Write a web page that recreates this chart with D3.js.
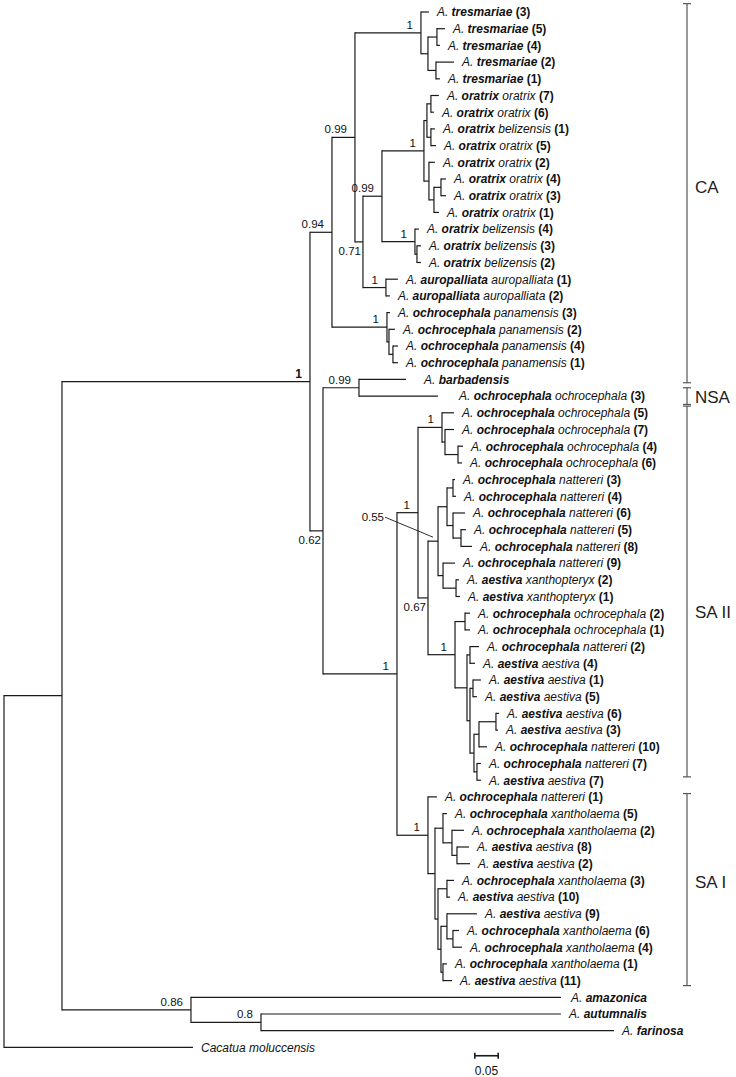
<!DOCTYPE html>
<html>
<head>
<meta charset="utf-8">
<script src="https://cdn.jsdelivr.net/npm/d3@7"></script>
<style>
  body { margin: 0; background: #fff; }
  svg { display: block; font-family: "Liberation Sans", Arial, sans-serif; }
</style>
</head>
<body>
<div id="chart-container"></div>
<script>
// Tree topology with branch lengths (substitutions/site); leaves are t0..t62
var newick =
  "(((" +
    "(((t0:0.0171,((t1:0.0171,t2:0.0064)T54:0.0192,(t3:0.0385,t4:0.0085)T21:0.0171)Tp:0.0150)T:0.1410," +
      "(((((t5:0.0171,t6:0.0064)o76:0.0085,(t7:0.0085,t8:0.0107)oB5:0.0085)Oa1:0.0064," +
           "(t9:0.0128,((t10:0.0107,t11:0.0107)o43:0.0150,t12:0.0107)o431:0.0107)Oa2:0.0107)Oa:0.0897," +
          "(t13:0.0085,(t14:0.0085,t15:0.0085)Bg2:0.0043)Bg:0.0705)O:0.0406," +
        "(t16:0.0256,t17:0.0085)Au:0.0491)O2:0.0171)C1:0.0491," +
     "(t18:0.0064,(t19:0.0128,(t20:0.0107,t21:0.0107)P2:0.0085)P1:0.0043)P:0.1175)C:0.0470," +
    "((t22:0.1004,t23:0.1688)NSA:0.0769," +
     "(((t24:0.0256,(t25:0.0192,(t26:0.0107,t27:0.0085)A3:0.0278)A2:0.0064)A1:0.0513," +
       "((((t28:0.0043,t29:0.0064)N34:0.0128,(t30:0.0256,(t31:0.0107,t32:0.0235)N58:0.0171)N658:0.0128)NG:0.0192," +
          "(t33:0.0256,(t34:0.0064,t35:0.0085)Nx:0.0278)N9:0.0107)N055:0.0214," +
         "((t36:0.0107,t37:0.0107)Noo:0.0214," +
          "((t38:0.0192,t39:0.0107)Nn2:0.0064," +
           "((t40:0.0171,t41:0.0085)Na15:0.0064," +
            "(((t42:0.0064,t43:0.0043)Na63:0.0363,t44:0.0171)N63:0.0107,(t45:0.0085,t46:0.0085)N77:0.0064)N1d:0.0085)N1c:0.0064)N1b:0.0256)N1:0.0577)N067:0.0214)S2:0.0449," +
      "(t47:0.0192,((t48:0.0085,(t49:0.0256,(t50:0.0256,t51:0.0278)G1c:0.0107)G1b:0.0192)G1:0.0171," +
        "((t52:0.0150,t53:0.0064)G2a:0.0192,((t54:0.0641,(t55:0.0128,t56:0.0192)G2d:0.0128)G2c:0.0128," +
          "(t57:0.0085,t58:0.0192)G2e:0.0043)G2b:0.0064)G2:0.0064)R:0.0150)SAI:0.0662)SA:0.1581)D:0.0278)B:0.5299," +
   "(t59:0.7906,(t60:0.6410,t61:0.7543)O8:0.1496)O86:0.2756)A:0.1239," +
  "t62:0.4038);";

// Leaf names, top to bottom
var genus = d3.range(62).map(function () { return "A."; }).concat(["Cacatua"]);
var species = [
  "tresmariae", "tresmariae", "tresmariae", "tresmariae", "tresmariae",
  "oratrix", "oratrix", "oratrix", "oratrix", "oratrix", "oratrix", "oratrix", "oratrix",
  "oratrix", "oratrix", "oratrix",
  "auropalliata", "auropalliata",
  "ochrocephala", "ochrocephala", "ochrocephala", "ochrocephala",
  "barbadensis", "ochrocephala",
  "ochrocephala", "ochrocephala", "ochrocephala", "ochrocephala",
  "ochrocephala", "ochrocephala", "ochrocephala", "ochrocephala", "ochrocephala", "ochrocephala",
  "aestiva", "aestiva",
  "ochrocephala", "ochrocephala", "ochrocephala",
  "aestiva", "aestiva", "aestiva", "aestiva", "aestiva",
  "ochrocephala", "ochrocephala", "aestiva",
  "ochrocephala", "ochrocephala", "ochrocephala", "aestiva", "aestiva",
  "ochrocephala", "aestiva", "aestiva", "ochrocephala", "ochrocephala", "ochrocephala", "aestiva",
  "amazonica", "autumnalis", "farinosa", "moluccensis"
];
var subspecies = [
  "", "", "", "", "",
  "oratrix", "oratrix", "belizensis", "oratrix", "oratrix", "oratrix", "oratrix", "oratrix",
  "belizensis", "belizensis", "belizensis",
  "auropalliata", "auropalliata",
  "panamensis", "panamensis", "panamensis", "panamensis",
  "", "ochrocephala",
  "ochrocephala", "ochrocephala", "ochrocephala", "ochrocephala",
  "nattereri", "nattereri", "nattereri", "nattereri", "nattereri", "nattereri",
  "xanthopteryx", "xanthopteryx",
  "ochrocephala", "ochrocephala", "nattereri",
  "aestiva", "aestiva", "aestiva", "aestiva", "aestiva",
  "nattereri", "nattereri", "aestiva",
  "nattereri", "xantholaema", "xantholaema", "aestiva", "aestiva",
  "xantholaema", "aestiva", "aestiva", "xantholaema", "xantholaema", "xantholaema", "aestiva",
  "", "", "", ""
];
var specimen = [
  3, 5, 4, 2, 1,
  7, 6, 1, 5, 2, 4, 3, 1,
  4, 3, 2,
  1, 2,
  3, 2, 4, 1,
  null, 3,
  5, 7, 4, 6,
  3, 4, 6, 5, 8, 9,
  2, 1,
  2, 1, 2,
  4, 1, 5, 6, 3,
  10, 7, 7,
  1, 5, 2, 8, 2,
  3, 10, 9, 6, 4, 1, 11,
  null, null, null, null
];

// Posterior support on internal nodes
var supportNodes = ["B", "C", "C1", "T", "O2", "O", "Oa", "Bg", "Au", "P", "D", "NSA",
  "SA", "S2", "A1", "N067", "N055", "N1", "SAI", "O86", "O8"];
var supportValues = ["1", "0.94", "0.99", "1", "0.71", "0.99", "1", "1", "1", "1", "0.62", "0.99",
  "1", "1", "1", "0.67", "0.55", "1", "1", "0.86", "0.8"];

// Clade brackets (in leaf rows)
var cladeNames = ["CA", "NSA", "SA II", "SA I"];
var cladeFrom = [-0.5, 22.5, 23.6, 46.8];
var cladeTo = [22.2, 23.5, 45.8, 58.3];
var cladeLabelRow = [10.5, 23.05, 35.9, 52.1];

var scaleBarValue = 0.05;

// ---- parse newick ----
function parseNewick(s) {
  s = s.replace(/\s+/g, "");
  var i = 0;
  function node() {
    var n = { children: [] };
    if (s[i] === "(") {
      i++;
      n.children.push(node());
      while (s[i] === ",") { i++; n.children.push(node()); }
      i++;
    }
    var name = "";
    while (i < s.length && ",():;".indexOf(s[i]) < 0) name += s[i++];
    n.name = name;
    n.length = 0;
    if (s[i] === ":") {
      i++;
      var num = "";
      while (i < s.length && ",();".indexOf(s[i]) < 0) num += s[i++];
      n.length = +num;
    }
    if (!n.children.length) delete n.children;
    return n;
  }
  return node();
}

var width = 736, height = 1077;
var root = d3.hierarchy(parseNewick(newick));

root.eachBefore(function (d) { d.dist = (d.parent ? d.parent.dist : 0) + d.data.length; });
root.eachAfter(function (d) {
  if (!d.children) d.row = +d.data.name.slice(1);
  else d.row = (d.children[0].row + d.children[d.children.length - 1].row) / 2;
});

var x = d3.scaleLinear().domain([0, 1]).range([4, 472]);
var y = d3.scaleLinear().domain([0, 62]).range([12, 1047.4]);

var svg = d3.select("#chart-container").append("svg")
  .attr("width", width)
  .attr("height", height);

var ink = "#1a1a1a";

// horizontal branches
svg.append("g")
  .selectAll("path")
  .data(root.descendants().filter(function (d) { return d.parent; }))
  .enter().append("path")
  .attr("d", function (d) {
    return "M" + x(d.parent.dist) + "," + y(d.row) + "H" + x(d.dist);
  })
  .attr("fill", "none")
  .attr("stroke", ink)
  .attr("stroke-width", 1.2);

// vertical connectors
svg.append("g")
  .selectAll("path")
  .data(root.descendants().filter(function (d) { return d.children; }))
  .enter().append("path")
  .attr("d", function (d) {
    var a = d.children[0], b = d.children[d.children.length - 1];
    return "M" + x(d.dist) + "," + (y(a.row) - 0.6) + "V" + (y(b.row) + 0.6);
  })
  .attr("fill", "none")
  .attr("stroke", ink)
  .attr("stroke-width", 1.2);

// leaf labels
var labelGap = 8;
var extraGap = { 22: 10, 23: 13, 59: 2 };
var leafG = svg.append("g").attr("font-size", 12).attr("fill", "#111");
root.leaves().forEach(function (d) {
  var i = d.row;
  var t = leafG.append("text")
    .attr("x", x(d.dist) + labelGap + (extraGap[i] || 0))
    .attr("y", y(i))
    .attr("dy", "0.36em");
  var isAmazona = genus[i] === "A.";
  t.append("tspan").attr("font-style", "italic").text(genus[i] + " ");
  t.append("tspan").attr("font-style", "italic")
    .attr("font-weight", isAmazona ? "bold" : "normal").text(species[i]);
  if (subspecies[i]) t.append("tspan").attr("font-style", "italic").text(" " + subspecies[i]);
  if (specimen[i] != null) t.append("tspan").attr("font-weight", "bold").text(" (" + specimen[i] + ")");
});

// support values
var below = ["O2", "D", "N067"];
var byName = {};
root.descendants().forEach(function (d) { if (d.data.name) byName[d.data.name] = d; });
var supG = svg.append("g").attr("font-size", 11.5).attr("fill", "#111").attr("text-anchor", "end");
supportNodes.forEach(function (name, k) {
  var d = byName[name];
  var nx = x(d.dist), ny = y(d.row);
  var t = supG.append("text").text(supportValues[k]);
  if (name === "N055") {
    t.attr("x", nx - 54).attr("y", ny - 20);
    svg.append("line")
      .attr("x1", nx - 53).attr("y1", ny - 24)
      .attr("x2", nx - 5).attr("y2", ny - 4)
      .attr("stroke", ink).attr("stroke-width", 0.9);
  } else if (below.indexOf(name) >= 0) {
    t.attr("x", nx - 2).attr("y", ny + 13);
  } else {
    t.attr("x", nx - 8).attr("y", ny - 4);
  }
  if (name === "B") t.attr("font-weight", "bold").attr("font-size", 12);
});

// clade brackets
var bx = 687;
var clG = svg.append("g").attr("stroke", "#555").attr("stroke-width", 1.2);
cladeNames.forEach(function (name, k) {
  var y1 = y(cladeFrom[k]), y2 = y(cladeTo[k]);
  clG.append("line").attr("x1", bx).attr("x2", bx).attr("y1", y1).attr("y2", y2);
  clG.append("line").attr("x1", bx - 4).attr("x2", bx + 4).attr("y1", y1).attr("y2", y1);
  clG.append("line").attr("x1", bx - 4).attr("x2", bx + 4).attr("y1", y2).attr("y2", y2);
  svg.append("text")
    .attr("x", bx + 8)
    .attr("y", y(cladeLabelRow[k]))
    .attr("dy", "0.36em")
    .attr("font-size", 17)
    .attr("fill", "#222")
    .text(name);
});

// scale bar
var sbStart = 1.006;
var sy = y(62.5);
var sx1 = x(sbStart), sx2 = x(sbStart + scaleBarValue);
var sb = svg.append("g").attr("stroke", ink).attr("stroke-width", 1.6);
sb.append("line").attr("x1", sx1).attr("x2", sx2).attr("y1", sy).attr("y2", sy);
sb.append("line").attr("x1", sx1).attr("x2", sx1).attr("y1", sy - 3).attr("y2", sy + 3);
sb.append("line").attr("x1", sx2).attr("x2", sx2).attr("y1", sy - 3).attr("y2", sy + 3);
svg.append("text")
  .attr("x", (sx1 + sx2) / 2)
  .attr("y", sy + 15)
  .attr("dy", "0.36em")
  .attr("text-anchor", "middle")
  .attr("font-size", 12)
  .attr("fill", "#111")
  .text("0.05");
</script>
</body>
</html>
